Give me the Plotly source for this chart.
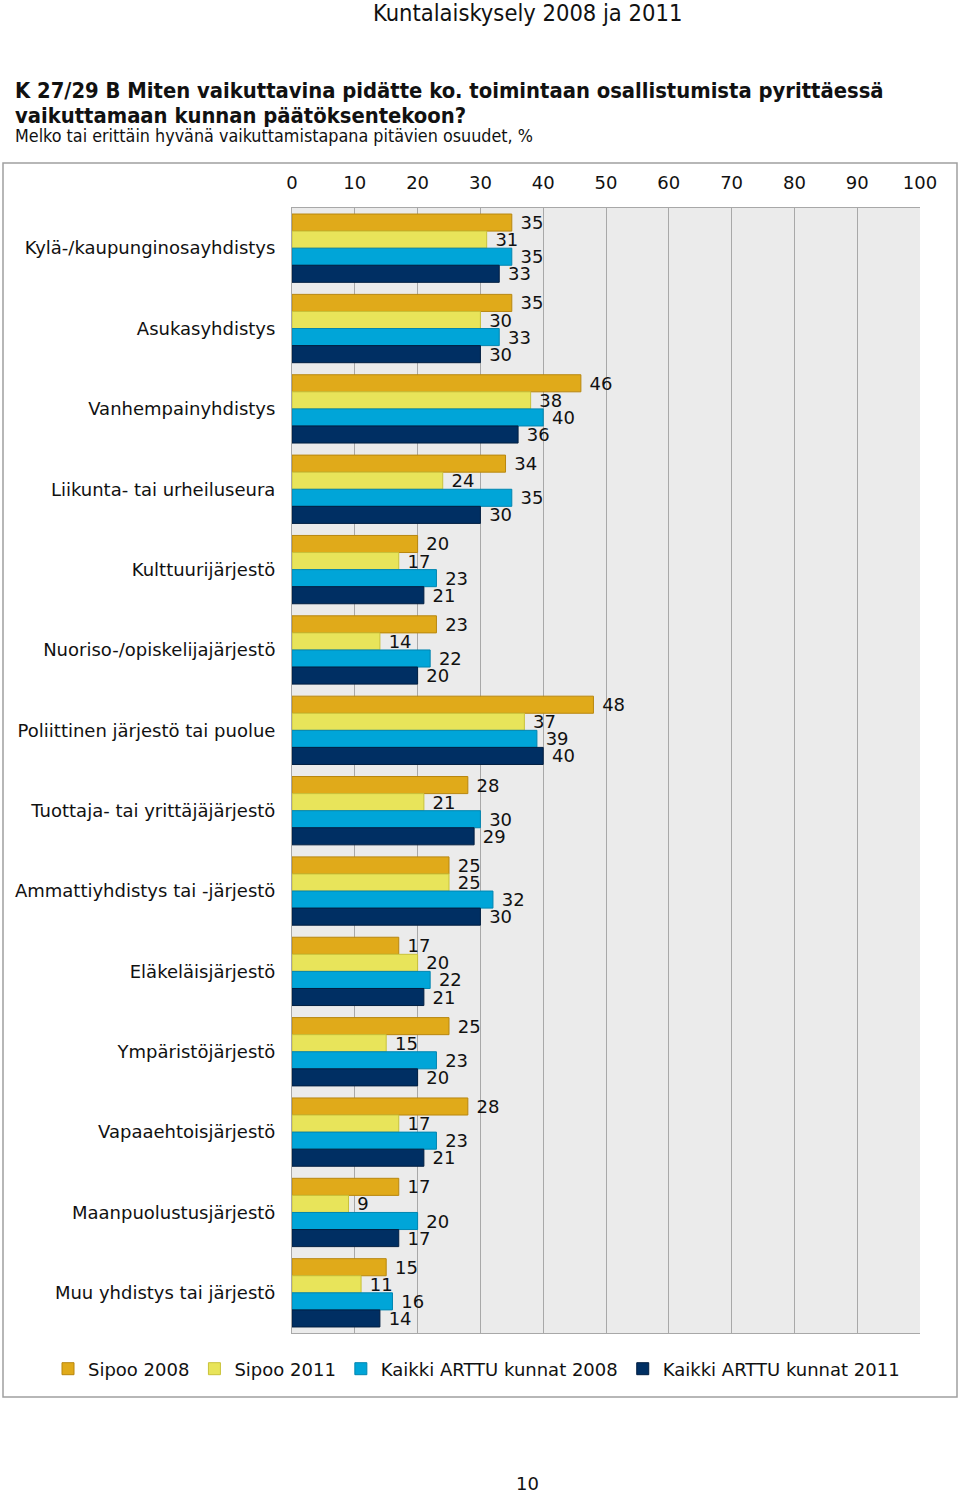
import plotly.graph_objects as go

categories = [
    "Kylä-/kaupunginosayhdistys", "Asukasyhdistys", "Vanhempainyhdistys",
    "Liikunta- tai urheiluseura", "Kulttuurijärjestö", "Nuoriso-/opiskelijajärjestö",
    "Poliittinen järjestö tai puolue", "Tuottaja- tai yrittäjäjärjestö",
    "Ammattiyhdistys tai -järjestö", "Eläkeläisjärjestö", "Ympäristöjärjestö",
    "Vapaaehtoisjärjestö", "Maanpuolustusjärjestö", "Muu yhdistys tai järjestö",
]
sipoo_2008 = [35, 35, 46, 34, 20, 23, 48, 28, 25, 17, 25, 28, 17, 15]
sipoo_2011 = [31, 30, 38, 24, 17, 14, 37, 21, 25, 20, 15, 17, 9, 11]
arttu_2008 = [35, 33, 40, 35, 23, 22, 39, 30, 32, 22, 23, 23, 20, 16]
arttu_2011 = [33, 30, 36, 30, 21, 20, 40, 29, 30, 21, 20, 21, 17, 14]
series_names = ["Sipoo 2008", "Sipoo 2011", "Kaikki ARTTU kunnat 2008", "Kaikki ARTTU kunnat 2011"]
tick_values = list(range(0, 101, 10))

colors = ["#E0AA1A", "#E8E45A", "#00A5D8", "#002F63"]
edges = ["#B8870F", "#C9C23A", "#0085B0", "#001E40"]

W, H = 960, 1494
L, R, T, B = 292, 920, 208, 1333

def px(x):
    return (x - L) / (R - L)

def py(y):
    return (B - y) / (B - T)

FONT = "DejaVu Sans"
COND = "DejaVu Sans Condensed"

fig = go.Figure()
for name, vals, c, e in zip(series_names, [sipoo_2008, sipoo_2011, arttu_2008, arttu_2011], colors, edges):
    fig.add_trace(go.Bar(
        y=categories, x=vals, name=name, orientation="h",
        marker=dict(color=c, line=dict(color=e, width=1)),
        text=["\u00a0" + str(v) for v in vals], textposition="outside",
        textfont=dict(family=FONT, size=18, color="#111111"),
        cliponaxis=False, constraintext="none",
    ))

fig.update_layout(
    width=W, height=H,
    margin=dict(l=L, r=W - R, t=T, b=H - B),
    paper_bgcolor="white", plot_bgcolor="#EBEBEB",
    barmode="group", bargap=0.15, bargroupgap=0,
    font=dict(family=FONT, size=18, color="#111111"),
    showlegend=True,
    legend=dict(orientation="h", xref="paper", yref="paper",
                x=px(48), xanchor="left", y=py(1369), yanchor="middle",
                font=dict(family=FONT, size=18, color="#111111"), traceorder="normal",
                itemwidth=30, bgcolor="rgba(0,0,0,0)"),
    xaxis=dict(range=[0, 100], side="top", tickvals=tick_values, showgrid=True,
               gridcolor="#A8A8A8", gridwidth=1, zeroline=False,
               showline=True, linecolor="#A8A8A8", mirror=True,
               ticks="", ticklabelstandoff=11, tickfont=dict(size=18)),
    yaxis=dict(autorange="reversed", showgrid=False, zeroline=False,
               showline=True, linecolor="#A8A8A8", ticks="", ticklabelstandoff=12,
               tickfont=dict(size=18)),
    shapes=[dict(type="rect", xref="paper", yref="paper", x0=px(3), x1=px(957),
                 y0=py(1397), y1=py(163), line=dict(color="#A0A0A0", width=1.5), layer="below")],
    annotations=[
        dict(text="Kuntalaiskysely 2008 ja 2011", xref="paper", yref="paper", x=px(527), y=py(13),
             xanchor="center", yanchor="middle", showarrow=False, font=dict(family=COND, size=23.5, color="#111111")),
        dict(text="<b>K 27/29 B Miten vaikuttavina pidätte ko. toimintaan osallistumista pyrittäessä</b>",
             xref="paper", yref="paper", x=px(13), y=py(90), xanchor="left", yanchor="middle",
             showarrow=False, font=dict(family=COND, size=21.8, color="#111111")),
        dict(text="<b>vaikuttamaan kunnan päätöksentekoon?</b>",
             xref="paper", yref="paper", x=px(13), y=py(115), xanchor="left", yanchor="middle",
             showarrow=False, font=dict(family=COND, size=21.8, color="#111111")),
        dict(text="Melko tai erittäin hyvänä vaikuttamistapana pitävien osuudet, %",
             xref="paper", yref="paper", x=px(13), y=py(136), xanchor="left", yanchor="middle",
             showarrow=False, font=dict(family=COND, size=17.8, color="#111111")),
        dict(text="10", xref="paper", yref="paper", x=px(527), y=py(1483),
             xanchor="center", yanchor="middle", showarrow=False, font=dict(family=FONT, size=18, color="#111111")),
    ],
)

fig.write_html("out.html", config={"displayModeBar": False},
               post_script="document.body.style.margin='0';document.body.style.overflow='hidden';")
